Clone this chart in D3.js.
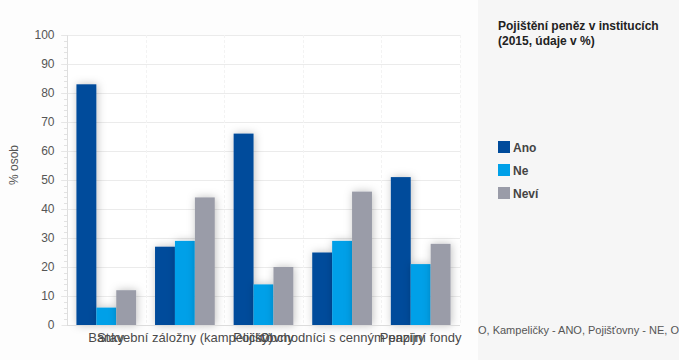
<!DOCTYPE html>
<html><head><meta charset="utf-8">
<script src="https://cdn.jsdelivr.net/npm/d3@7/dist/d3.min.js"></script>
<style>
html,body{margin:0;padding:0;background:#fdfdfd;}
svg{display:block;font-family:"Liberation Sans",Arial,sans-serif;}
</style></head>
<body>
<svg id="c" width="679" height="360"></svg>
<script>
const categories = ["Banky", "Stavební záložny (kampeličky)", "Pojišťovny", "Obchodníci s cenným papíry", "Penzijní fondy"];
const series = ["Ano", "Ne", "Neví"];
const ano = [83, 27, 66, 25, 51];
const ne = [6, 29, 14, 29, 21];
const nevi = [12, 44, 20, 46, 28];
const colors = ["#004b9b", "#00a0e8", "#9a9ca8"];
const yTicks = [0, 10, 20, 30, 40, 50, 60, 70, 80, 90, 100];
const legendTitle = ["Pojištění peněz v institucích", "(2015, údaje v %)"];
const yTitle = "% osob";
const footText = "O, Kampeličky - ANO, Pojišťovny - NE, O";

const values = [ano, ne, nevi];
const svg = d3.select("#c");

const defs = svg.append("defs");
const f = defs.append("filter").attr("id","sh").attr("x","-50%").attr("y","-50%").attr("width","200%").attr("height","200%");
f.append("feDropShadow").attr("dx",1).attr("dy",0).attr("stdDeviation",4).attr("flood-color","#000").attr("flood-opacity",0.25);
defs.append("clipPath").attr("id","pc").append("rect").attr("x",478).attr("y",0).attr("width",201).attr("height",360);

// right panel
svg.append("rect").attr("x",478).attr("y",0).attr("width",201).attr("height",360).attr("fill","#f6f6f6");
// plot bg
svg.append("rect").attr("x",67).attr("y",35).attr("width",393).attr("height",290).attr("fill","#fff");

const x = d3.scaleBand().domain(categories).range([67, 460]).padding(0);
const bw = x.bandwidth();
const xi = d3.scaleBand().domain(series).range([bw*0.12, bw*0.88]).padding(0);
const y = d3.scaleLinear().domain([0, 100]).range([325, 35]);

// horizontal grid
svg.append("g").selectAll("line").data(yTicks.filter(d=>d>0)).join("line")
  .attr("x1",61).attr("x2",460).attr("y1",d=>y(d)+0.5).attr("y2",d=>y(d)+0.5)
  .attr("stroke","#ebebeb").attr("stroke-width",1);
// vertical band grid
svg.append("g").selectAll("line").data(categories.slice(1).concat(["__end"])).join("line")
  .attr("x1",d=>Math.round(d==="__end"?460:x(d))+0.5).attr("x2",d=>Math.round(d==="__end"?460:x(d))+0.5)
  .attr("y1",35).attr("y2",325)
  .attr("stroke","#f3f3f3").attr("stroke-dasharray","3,2");

// minor ticks
const minor = d3.range(0, 101, 2).filter(d => d % 10 !== 0);
svg.append("g").selectAll("line").data(minor).join("line")
  .attr("x1",64).attr("x2",67).attr("y1",d=>Math.round(y(d))+0.5).attr("y2",d=>Math.round(y(d))+0.5)
  .attr("stroke","#e2e2e2");

// y axis
const yAxis = d3.axisLeft(y).tickValues(yTicks).tickSize(6).tickPadding(7);
const ga = svg.append("g").attr("transform","translate(67.5,0)").call(yAxis);
ga.select(".domain").attr("stroke","#dedede").attr("d","M0,35V325");
ga.selectAll(".tick line").attr("stroke","#e6e6e6");
ga.selectAll(".tick text").attr("font-size",12).attr("fill","#555").attr("font-family","Liberation Sans, Arial, sans-serif");

// bars
const gBars = svg.append("g");
categories.forEach((c, ci) => {
  series.forEach((s, si) => {
    const v = values[si][ci];
    gBars.append("rect")
      .attr("x", x(c) + xi(s))
      .attr("width", xi.bandwidth())
      .attr("y", y(v))
      .attr("height", y(0) - y(v))
      .attr("fill", colors[si])
      .attr("filter","url(#sh)");
  });
});

// x axis line
svg.append("line").attr("x1",67).attr("x2",460).attr("y1",325.5).attr("y2",325.5).attr("stroke","#dcdcdc");

// category labels
svg.append("g").selectAll("text").data(categories).join("text")
  .attr("x", d => x(d) + bw/2).attr("y", 342)
  .attr("text-anchor","middle").attr("font-size",13).attr("fill","#4a4a4a")
  .text(d => d);

// y title
svg.append("text").attr("transform","translate(18,165) rotate(-90)")
  .attr("text-anchor","middle").attr("font-size",12).attr("fill","#555").text(yTitle);

// legend
const lg = svg.append("g");
lg.selectAll("text.t").data(legendTitle).join("text").attr("class","t")
  .attr("x",498).attr("y",(d,i)=>30+i*15).attr("font-size",12).attr("font-weight","bold").attr("fill","#222").text(d=>d);
const items = lg.selectAll("g.it").data(series).join("g").attr("class","it")
  .attr("transform",(d,i)=>`translate(498,${141 + i*23})`);
items.append("rect").attr("width",12).attr("height",12).attr("fill",(d,i)=>colors[i]);
items.append("text").attr("x",15).attr("y",10.5).attr("font-size",12).attr("font-weight","bold").attr("fill","#444").text(d=>d);

// foot text
svg.append("text").attr("clip-path","url(#pc)").attr("x",478).attr("y",334)
  .attr("font-size",11).attr("fill","#555").text(footText);
</script>
</body></html>
